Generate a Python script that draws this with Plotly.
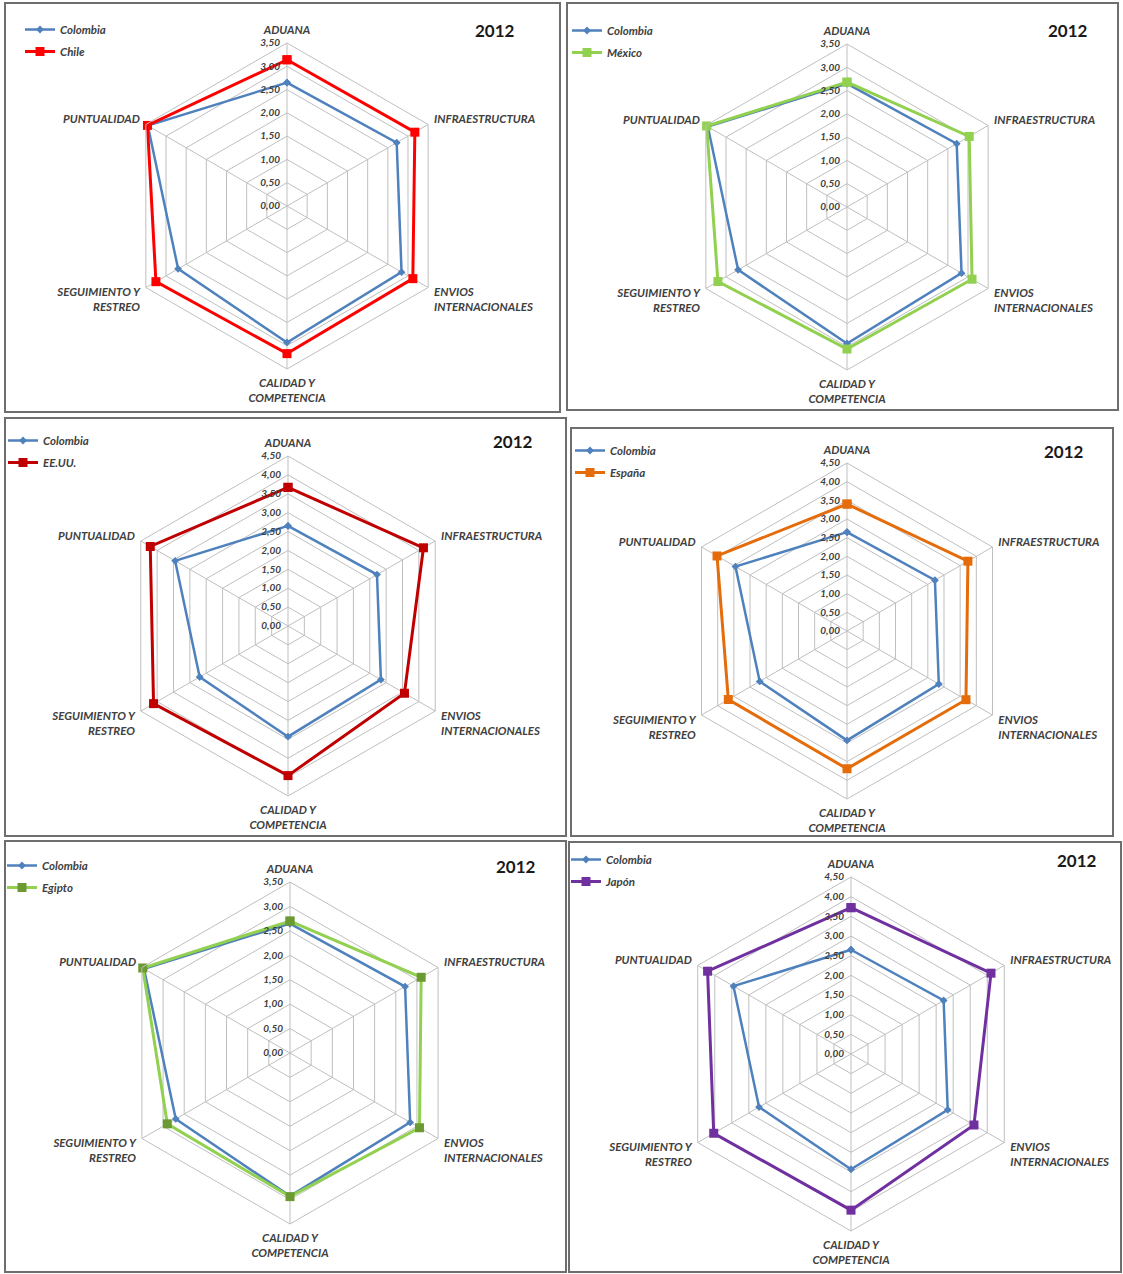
import plotly.graph_objects as go

# Indicadores de desempeño logístico, 2012
categorias = ["ADUANA", "INFRAESTRUCTURA", "ENVIOS<br>INTERNACIONALES",
              "CALIDAD Y<br>COMPETENCIA", "SEGUIMIENTO Y<br>RESTREO", "PUNTUALIDAD"]
colombia = [2.65, 2.72, 2.84, 2.93, 2.70, 3.45]
chile = [3.14, 3.17, 3.12, 3.17, 3.25, 3.46]
mexico = [2.68, 3.03, 3.10, 3.05, 3.20, 3.48]
eeuu = [3.67, 4.14, 3.56, 3.96, 4.11, 4.21]
espana = [3.40, 3.74, 3.68, 3.69, 3.67, 4.02]
egipto = [2.70, 3.10, 3.06, 2.94, 2.90, 3.48]
japon = [3.72, 4.11, 3.61, 3.97, 4.03, 4.21]
anio = "2012"

W, H = 1123, 1274
FONT = "Lato"
TXT = "#404040"
GRID = "#BFBFBF"
AZUL = "#4F81BD"


def fx(x):
    return x / W


def fy(y):
    return 1 - y / H


paneles = [
    dict(pais="Chile", valores=chile, color="#FF0000", mcolor="#FF0000",
         caja=(5, 3, 560, 412), centro=(287, 206), radio=163, rmax=3.5,
         leyenda=(20, 15), anio=(495, 30)),
    dict(pais="México", valores=mexico, color="#92D050", mcolor="#92D050",
         caja=(567, 3, 1118, 410), centro=(847, 207), radio=163, rmax=3.5,
         leyenda=(567, 16), anio=(1068, 30)),
    dict(pais="EE.UU.", valores=eeuu, color="#C00000", mcolor="#C00000",
         caja=(5, 418, 566, 836), centro=(288, 626), radio=170, rmax=4.5,
         leyenda=(3, 426), anio=(513, 442)),
    dict(pais="España", valores=espana, color="#E46C0A", mcolor="#E46C0A",
         caja=(571, 428, 1113, 836), centro=(847, 631), radio=168, rmax=4.5,
         leyenda=(570, 436), anio=(1064, 451)),
    dict(pais="Egipto", valores=egipto, color="#92D050", mcolor="#6B9A33",
         caja=(5, 841, 566, 1272), centro=(290, 1053), radio=171, rmax=3.5,
         leyenda=(2, 851), anio=(516, 866)),
    dict(pais="Japón", valores=japon, color="#7030A0", mcolor="#7030A0",
         caja=(569, 842, 1121, 1272), centro=(851, 1054), radio=177, rmax=4.5,
         leyenda=(566, 845), anio=(1077, 860)),
]

fig = go.Figure()
layout = dict(width=W, height=H, margin=dict(l=0, r=0, t=0, b=0),
              paper_bgcolor="white", plot_bgcolor="white",
              separators=",.", shapes=[], annotations=[])

for i, p in enumerate(paneles, start=1):
    polar = "polar" if i == 1 else f"polar{i}"
    leg = "legend" if i == 1 else f"legend{i}"
    theta = categorias + categorias[:1]

    fig.add_trace(go.Scatterpolar(
        r=colombia + colombia[:1], theta=theta, subplot=polar, legend=leg,
        name="Colombia", legendgroup=f"c{i}", mode="lines+markers",
        line=dict(color=AZUL, width=2.5),
        marker=dict(symbol="diamond", size=6, color=AZUL),
    ))
    fig.add_trace(go.Scatterpolar(
        r=p["valores"] + p["valores"][:1], theta=theta, subplot=polar, legend=leg,
        name=p["pais"], legendgroup=f"p{i}", mode="lines+markers",
        line=dict(color=p["color"], width=3),
        marker=dict(symbol="square", size=9, color=p["mcolor"]),
    ))

    cx, cy = p["centro"]
    R = p["radio"]
    layout[polar] = dict(
        domain=dict(x=[fx(cx - R), fx(cx + R)], y=[fy(cy + R), fy(cy - R)]),
        bgcolor="white",
        gridshape="linear",
        radialaxis=dict(range=[0, p["rmax"]], dtick=0.5, tick0=0, angle=90,
                        tickformat=".2f", showline=False,
                        ticks="outside", ticklen=3, tickcolor="rgba(0,0,0,0)",
                        gridcolor=GRID, gridwidth=1, side="counterclockwise",
                        tickangle=90,
                        tickfont=dict(family=FONT, size=10, color=TXT,
                                      weight="bold", style="italic")),
        angularaxis=dict(categoryorder="array", categoryarray=categorias,
                         rotation=90, direction="clockwise",
                         gridcolor=GRID, gridwidth=1, linecolor=GRID,
                         linewidth=1, showline=True,
                         ticks="outside", ticklen=4, tickcolor="rgba(0,0,0,0)",
                         tickfont=dict(family=FONT, size=11.5, color=TXT,
                                       weight="bold", style="italic")),
    )

    lx, ly = p["leyenda"]
    layout[leg] = dict(x=fx(lx), y=fy(ly), xanchor="left", yanchor="top",
                       bgcolor="rgba(0,0,0,0)", tracegroupgap=3,
                       itemwidth=30,
                       font=dict(family=FONT, size=11.5, color=TXT,
                                 weight="bold", style="italic"))

    x0, y0, x1, y1 = p["caja"]
    layout["shapes"].append(dict(type="rect", xref="paper", yref="paper",
                                 x0=fx(x0), x1=fx(x1), y0=fy(y1), y1=fy(y0),
                                 line=dict(color="#6E6E6E", width=2),
                                 fillcolor="rgba(0,0,0,0)"))

    ax, ay = p["anio"]
    layout["annotations"].append(dict(text=anio, x=fx(ax), y=fy(ay),
                                      xref="paper", yref="paper",
                                      showarrow=False, xanchor="center",
                                      yanchor="middle",
                                      font=dict(family=FONT, size=17,
                                                color="#1A1A1A", weight="bold")))

fig.update_layout(**layout)
fig.write_html("out.html")
